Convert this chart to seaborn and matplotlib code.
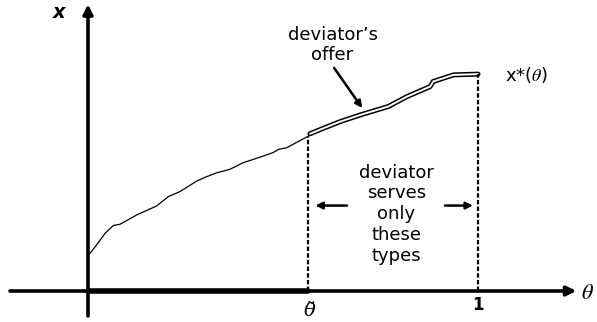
import seaborn as sns
import matplotlib.pyplot as plt
import pandas as pd

# curve (theta on x, x on y)
theta_low = [0.0, 0.022, 0.044, 0.065, 0.082, 0.125, 0.176, 0.206, 0.236, 0.279, 0.304,
             0.330, 0.364, 0.398, 0.441, 0.475, 0.488, 0.509, 0.565]
x_low = [0.090, 0.118, 0.148, 0.168, 0.171, 0.195, 0.218, 0.242, 0.255, 0.282, 0.293,
         0.303, 0.312, 0.329, 0.343, 0.355, 0.363, 0.367, 0.397]
theta_dev = [0.569, 0.603, 0.646, 0.697, 0.770, 0.817, 0.877, 0.885, 0.937, 1.0]
x_dev = [0.403, 0.417, 0.434, 0.451, 0.473, 0.498, 0.524, 0.537, 0.554, 0.556]
theta_tilde = 0.565
tick_labels = ['θ\u0303', '1']

low = pd.DataFrame({'theta': theta_low, 'x': x_low})
dev = pd.DataFrame({'theta': theta_dev, 'x': x_dev})

sns.set_style('white')
plt.rcParams['font.family'] = ['DejaVu Sans']
plt.rcParams['text.color'] = 'black'
plt.rcParams['mathtext.fontset'] = 'stix'
fig = plt.figure(figsize=(5.97, 3.22), dpi=100)
ax = fig.add_axes([0, 0, 1, 1])

sns.lineplot(data=low, x='theta', y='x', color='black', lw=0.9, sort=False, estimator=None, ax=ax)
# double line for the deviator's offer
sns.lineplot(data=dev, x='theta', y='x', color='black', lw=3.6, sort=False, estimator=None, ax=ax)
sns.lineplot(data=dev, x='theta', y='x', color='white', lw=1.4, sort=False, estimator=None, ax=ax)

# dashed verticals
ax.plot([theta_tilde, theta_tilde], [0, x_low[-1]], color='black', lw=1.6, ls=(0, (2, 1)))
ax.plot([1, 1], [0, x_dev[-1]], color='black', lw=1.6, ls=(0, (2, 1)))

# axes with arrows
ap = dict(arrowstyle='-|>', lw=2.6, color='black', mutation_scale=14, shrinkA=0, shrinkB=0)
ax.annotate('', xy=(1.252, 0), xytext=(-0.2, 0), arrowprops=ap)
ax.annotate('', xy=(0, 0.735), xytext=(0, -0.064), arrowprops=ap)
ax.plot([0, theta_tilde], [0, 0], color='black', lw=4)

ax.text(1.263, -0.004, r'$\theta$', fontsize=16, ha='left', va='center')
ax.text(-0.075, 0.715, 'x', fontsize=14, style='italic',
        fontweight='bold', ha='center', va='center')
ax.text(theta_tilde + 0.003, -0.027, tick_labels[0], fontsize=14, ha='center', va='top',
        family='DejaVu Serif', style='italic', zorder=5)
ax.text(1, -0.035, tick_labels[1], fontsize=12, ha='center', va='center', fontweight='bold')

ax.text(1.07, 0.553, r'x*($\theta$)', fontsize=13, ha='left', va='center')
ax.text(0.627, 0.631, "deviator’s\noffer", fontsize=13, ha='center', va='center', linespacing=1.15)
ax.annotate('', xy=(0.703, 0.469), xytext=(0.631, 0.572),
            arrowprops=dict(arrowstyle='-|>', lw=1.8, color='black', mutation_scale=10,
                            shrinkA=0, shrinkB=0))
ax.text(0.79, 0.197, 'deviator\nserves\nonly\nthese\ntypes', fontsize=13, ha='center', va='center',
        linespacing=1.2)
arr = dict(arrowstyle='-|>', lw=1.8, color='black', mutation_scale=10, shrinkA=0, shrinkB=0)
ax.annotate('', xy=(0.583, 0.219), xytext=(0.664, 0.219), arrowprops=arr)
ax.annotate('', xy=(0.987, 0.219), xytext=(0.915, 0.219), arrowprops=arr)

ax.set_xlim(-0.2256, 1.305)
ax.set_ylim(-0.0795, 0.746)
ax.axis('off')
fig.savefig('out.png', dpi=100)
